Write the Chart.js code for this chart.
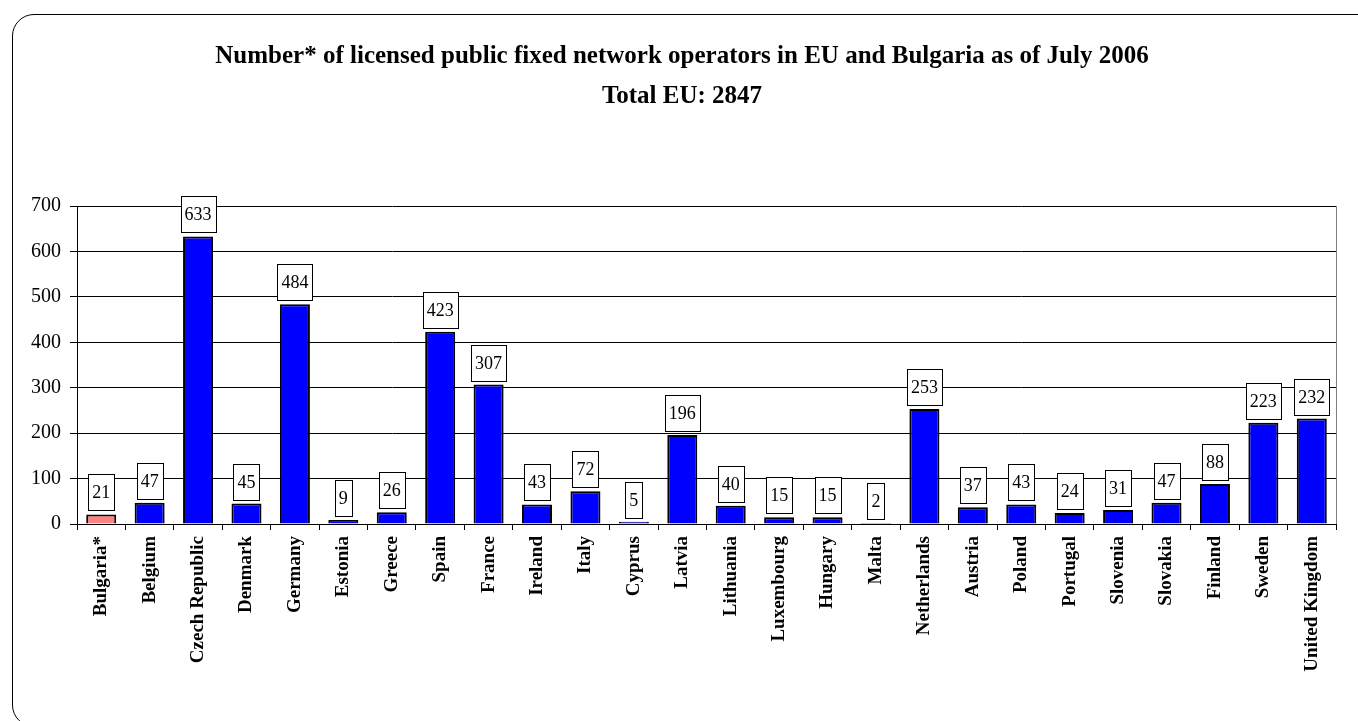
<!DOCTYPE html>
<html>
<head>
<meta charset="utf-8">
<script src="https://cdn.jsdelivr.net/npm/chart.js@4/dist/chart.umd.min.js"></script>
<style>
  html, body { margin: 0; padding: 0; background: #fff; overflow: hidden; }
  #frame { position: absolute; left: 12px; top: 14px; width: 1400px; height: 711px;
           border: 1.5px solid #000; border-radius: 22px; }
  #chart { position: absolute; left: 0; top: 0; }
</style>
</head>
<body>
<div id="frame"></div>
<canvas id="chart" width="1358" height="721"></canvas>
<script>
const countries = ['Bulgaria*', 'Belgium', 'Czech Republic', 'Denmark', 'Germany', 'Estonia', 'Greece',
    'Spain', 'France', 'Ireland', 'Italy', 'Cyprus', 'Latvia', 'Lithuania', 'Luxembourg', 'Hungary',
    'Malta', 'Netherlands', 'Austria', 'Poland', 'Portugal', 'Slovenia', 'Slovakia', 'Finland',
    'Sweden', 'United Kingdom'];
const operators = [21, 47, 633, 45, 484, 9, 26, 423, 307, 43, 72, 5, 196, 40, 15, 15, 2, 253, 37, 43,
    24, 31, 47, 88, 223, 232];
const yTicks = [0, 100, 200, 300, 400, 500, 600, 700];
const titleLines = ['Number* of licensed public fixed network operators in EU and Bulgaria as of July 2006',
    'Total EU: 2847'];

const serif = '"Liberation Serif", "Times New Roman", serif';

// white boxes with the value above every bar
const valueBoxes = {
    id: 'valueBoxes',
    afterDatasetsDraw(chart) {
        const ctx = chart.ctx;
        const meta = chart.getDatasetMeta(0);
        ctx.save();
        ctx.font = '18px ' + serif;
        ctx.textAlign = 'center';
        ctx.textBaseline = 'middle';
        meta.data.forEach((bar, i) => {
            const txt = String(operators[i]);
            const w = Math.round(ctx.measureText(txt).width + 8);
            const h = 36;
            const x = Math.round(bar.x - w / 2);
            const y = Math.round(bar.y - 4 - h);
            ctx.fillStyle = '#fff';
            ctx.fillRect(x, y, w, h);
            ctx.strokeStyle = '#000';
            ctx.lineWidth = 1;
            ctx.strokeRect(x + 0.5, y + 0.5, w, h);
            ctx.fillStyle = '#000';
            ctx.fillText(txt, bar.x, y + h / 2 + 1);
        });
        ctx.restore();
    }
};

// grey line closing the plot area on the right
const rightEdge = {
    id: 'rightEdge',
    beforeDatasetsDraw(chart) {
        const {ctx, chartArea} = chart;
        ctx.save();
        ctx.strokeStyle = '#808080';
        ctx.lineWidth = 1;
        ctx.beginPath();
        ctx.moveTo(chartArea.right + 0.5, chartArea.top);
        ctx.lineTo(chartArea.right + 0.5, chartArea.bottom);
        ctx.stroke();
        ctx.restore();
    }
};

new Chart(document.getElementById('chart'), {
    type: 'bar',
    data: {
        labels: countries,
        datasets: [{
            data: operators,
            backgroundColor: countries.map(c => c === 'Bulgaria*' ? '#FF8080' : '#0000FF'),
            borderColor: '#000',
            borderWidth: 2,
            barPercentage: 0.62,
            categoryPercentage: 1.0
        }]
    },
    options: {
        responsive: false,
        animation: false,
        layout: {padding: {left: 28, right: 22, top: 0, bottom: 0}},
        plugins: {
            legend: {display: false},
            tooltip: {enabled: false},
            title: {
                display: true,
                text: titleLines,
                color: '#000',
                font: {family: serif, size: 25, weight: 'bold', lineHeight: 1.6},
                padding: {top: 37, bottom: 89}
            }
        },
        scales: {
            x: {
                afterFit: s => { s.height = 197; },
                grid: {offset: true, drawOnChartArea: false, drawTicks: true, tickLength: 6, color: '#000'},
                border: {color: '#000', width: 1},
                ticks: {
                    autoSkip: false, maxRotation: 90, minRotation: 90, padding: 6,
                    color: '#000', font: {family: serif, size: 19, weight: 'bold'}
                }
            },
            y: {
                min: 0, max: 700,
                afterFit: s => { s.width = 49; },
                afterBuildTicks: s => { s.ticks = yTicks.map(v => ({value: v})); },
                grid: {color: '#000', lineWidth: 1, tickLength: 7},
                border: {color: '#000', width: 1},
                ticks: {padding: 9, color: '#000', font: {family: serif, size: 20}}
            }
        }
    },
    plugins: [valueBoxes, rightEdge]
});
</script>
</body>
</html>
